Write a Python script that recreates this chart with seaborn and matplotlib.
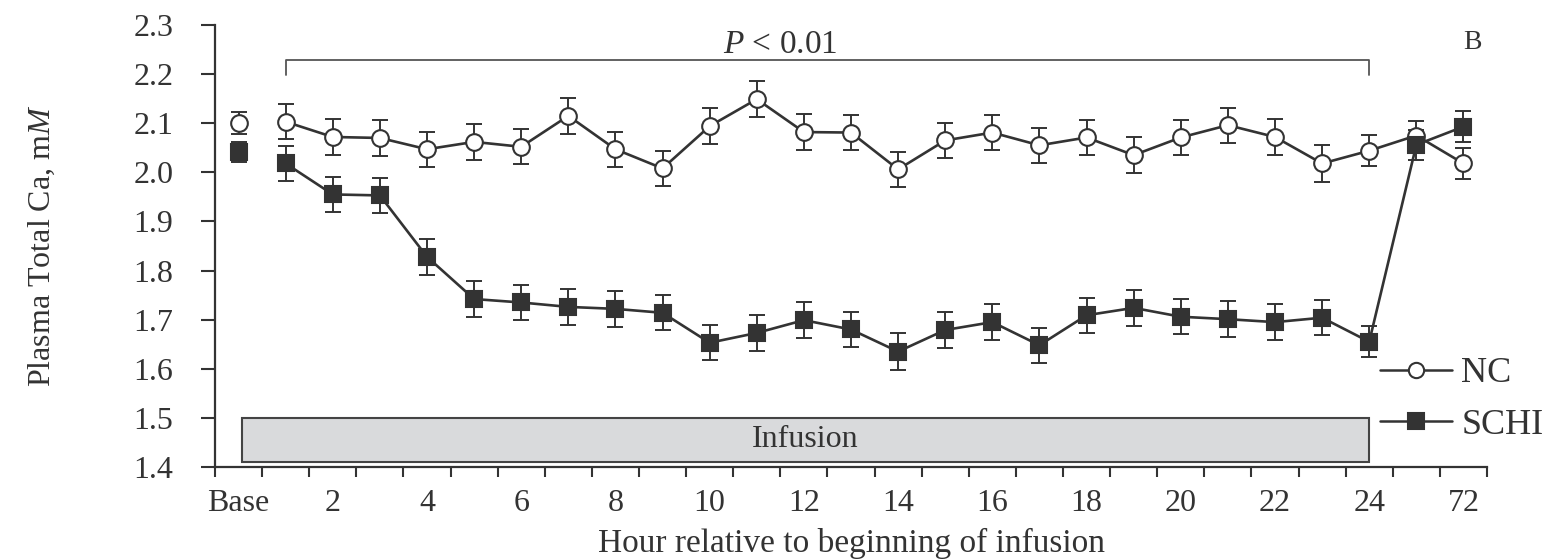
import numpy as np
import pandas as pd
import matplotlib
matplotlib.use("Agg")
import matplotlib.pyplot as plt
from matplotlib.lines import Line2D
from matplotlib.patches import Rectangle
import seaborn as sns

# ---------------- data ----------------
categories = ["Base"] + [str(h) for h in range(1, 25)] + ["48", "72"]
tick_labels = ["Base", "2", "4", "6", "8", "10", "12", "14", "16", "18",
               "20", "22", "24", "72"]

nc_mean = [2.100, 2.103, 2.072, 2.070, 2.047, 2.062, 2.052, 2.115, 2.047,
           2.008, 2.094, 2.149, 2.082, 2.081, 2.006, 2.065, 2.081, 2.055,
           2.071, 2.035, 2.071, 2.096, 2.072, 2.018, 2.044, 2.075, 2.018]
nc_se = [0.022, 0.036, 0.037, 0.036, 0.036, 0.036, 0.036, 0.036, 0.036,
         0.036, 0.036, 0.036, 0.036, 0.036, 0.036, 0.036, 0.036, 0.036,
         0.036, 0.037, 0.036, 0.036, 0.036, 0.037, 0.032, 0.030, 0.032]

schi_mean = [2.041, 2.018, 1.955, 1.953, 1.828, 1.742, 1.735, 1.726, 1.722,
             1.714, 1.653, 1.673, 1.699, 1.680, 1.635, 1.679, 1.695, 1.648,
             1.709, 1.724, 1.706, 1.701, 1.695, 1.704, 1.655, 2.056, 2.093]
schi_se = [0.020, 0.036, 0.036, 0.036, 0.037, 0.036, 0.036, 0.036, 0.036,
           0.036, 0.036, 0.036, 0.036, 0.036, 0.037, 0.036, 0.036, 0.036,
           0.036, 0.036, 0.036, 0.036, 0.036, 0.036, 0.032, 0.031, 0.032]

groups = ["NC", "SCHI"]
p_text = r"$P$ < 0.01"
panel_label = "B"
box_label = "Infusion"
x_title = "Hour relative to beginning of infusion"
y_title = r"Plasma Total Ca, m$M$"

# ---------------- style ----------------
sns.set_theme(style="ticks")
plt.rcParams["font.family"] = ["Liberation Serif", "DejaVu Serif"]
plt.rcParams["mathtext.fontset"] = "custom"
plt.rcParams["mathtext.rm"] = "Liberation Serif"
plt.rcParams["mathtext.it"] = "Liberation Serif:italic"

INK = "#333333"
FS = 23

pos = np.arange(len(categories))
df = pd.DataFrame({
    "pos": np.concatenate([pos, pos]),
    "value": nc_mean + schi_mean,
    "se": nc_se + schi_se,
    "group": ["NC"] * len(pos) + ["SCHI"] * len(pos),
})

fig = plt.figure(figsize=(15.65, 5.6), dpi=100)
ax = fig.add_axes([215 / 1565, 1 - 467 / 560, (1487 - 215) / 1565, (467 - 25) / 560])

styles = {
    "NC": dict(marker="o", mfc="white"),
    "SCHI": dict(marker="s", mfc=INK),
}

for g in groups:
    sub = df[df.group == g]
    ax.errorbar(sub.pos, sub.value, yerr=sub.se, fmt="none", ecolor=INK,
                elinewidth=1.4, capsize=5.5, capthick=1.4, zorder=2)
    conn = sub[sub.pos >= 1]
    sns.lineplot(data=conn, x="pos", y="value", ax=ax, color=INK, lw=1.9,
                 ms=12, mec=INK, mew=1.5, zorder=3, **styles[g])
    base = sub[sub.pos == 0]
    sns.lineplot(data=base, x="pos", y="value", ax=ax, color=INK, lw=0,
                 ms=12, mec=INK, mew=1.5, zorder=3, **styles[g])

# infusion box
ax.add_patch(Rectangle((0.07, 1.41), 24.0 - 0.07, 0.09, facecolor="#d9dadc",
                       edgecolor="#444444", lw=1.5, zorder=1))
ax.text(12.03, 1.455, box_label, ha="center", va="center", fontsize=FS,
        color=INK, zorder=4)

# significance bracket
ax.plot([1, 1, 24, 24], [2.198, 2.229, 2.229, 2.198], color="#555555",
        lw=1.3, zorder=2)
ax.text(11.5, 2.243, p_text, ha="center", va="baseline", fontsize=FS + 1,
        color=INK)
ax.text(26.2, 2.251, panel_label, ha="center", va="baseline", fontsize=20,
        color=INK)

# axes
ax.set_xlim(-0.5, 26.5)
ax.set_ylim(1.4, 2.3)
ax.set_xticks(np.arange(0, 27, 2))
ax.set_xticklabels(tick_labels)
ax.set_xticks(np.arange(-0.5, 27, 1), minor=True)
ax.tick_params(axis="x", which="major", length=0, pad=16, labelsize=FS,
               labelcolor=INK)
ax.tick_params(axis="x", which="minor", length=7.5, width=1.5, color=INK,
               direction="out")
yt = np.round(np.arange(1.4, 2.31, 0.1), 1)
ax.set_yticks(yt)
ax.set_yticklabels([f"{v:.1f}" for v in yt])
ax.tick_params(axis="y", length=10, width=1.5, color=INK, pad=20,
               labelsize=FS, labelcolor=INK)
for s in ["top", "right"]:
    ax.spines[s].set_visible(False)
for s in ["left", "bottom"]:
    ax.spines[s].set_linewidth(1.6)
    ax.spines[s].set_color(INK)
ax.set_xlabel(x_title, fontsize=FS + 1, color=INK, labelpad=7)
ax.set_ylabel(y_title, fontsize=FS, color=INK, labelpad=55)

handles = [Line2D([], [], color=INK, lw=1.8, marker="o", mfc="white",
                  mec=INK, mew=1.5, ms=11),
           Line2D([], [], color=INK, lw=1.8, marker="s", mfc=INK,
                  mec=INK, mew=1.5, ms=11)]
fig.legend(handles, groups, loc="upper left",
           bbox_to_anchor=(1380 / 1565, 1 - 357 / 560), frameon=False,
           handlelength=2.0, handletextpad=0.25, labelspacing=0.5,
           borderpad=0, borderaxespad=0, fontsize=FS + 3,
           labelcolor=INK)

fig.savefig("out.png", dpi=100)
